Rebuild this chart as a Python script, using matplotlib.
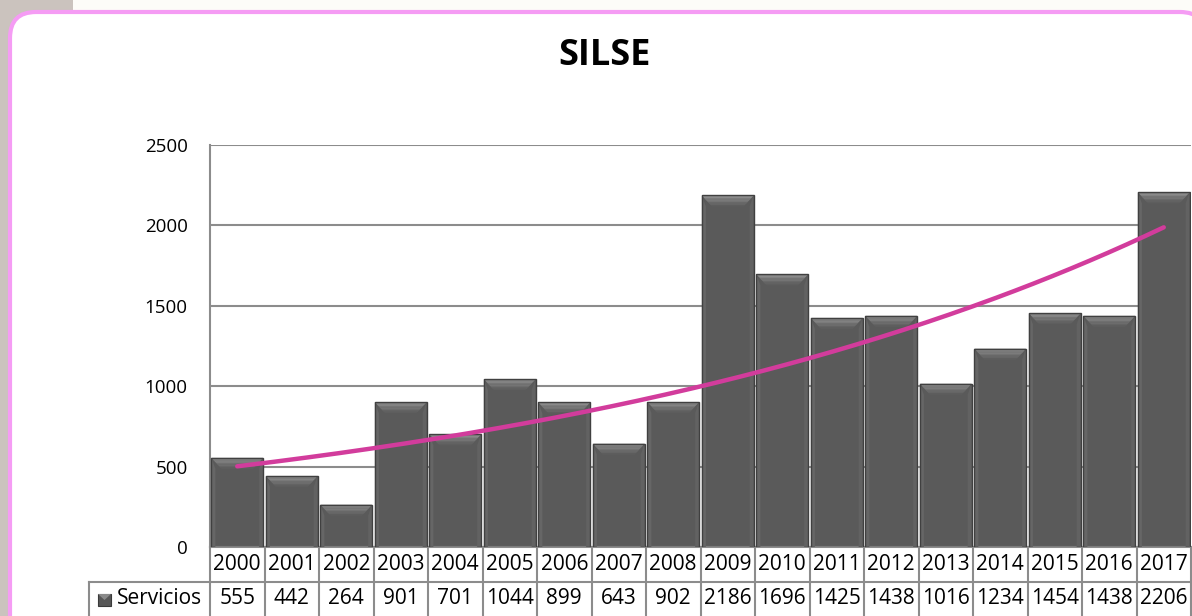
import numpy as np
import matplotlib
matplotlib.use("Agg")
import matplotlib.pyplot as plt
from matplotlib.patches import Rectangle, FancyBboxPatch, Polygon
import matplotlib.transforms as mtransforms

years = ["2000", "2001", "2002", "2003", "2004", "2005", "2006", "2007", "2008",
         "2009", "2010", "2011", "2012", "2013", "2014", "2015", "2016", "2017"]
servicios = [555, 442, 264, 901, 701, 1044, 899, 643, 902,
             2186, 1696, 1425, 1438, 1016, 1234, 1454, 1438, 2206]
series_name = "Servicios"
title = "SILSE"
yticks = [0, 500, 1000, 1500, 2000, 2500]

plt.rcParams['font.family'] = ['Open Sans', 'DejaVu Sans']

W, H = 1192, 616
fig = plt.figure(figsize=(W / 100, H / 100), dpi=100)
fig.patch.set_facecolor('#cbc3be')

pix = mtransforms.IdentityTransform()
# background pieces (pixel coords, origin bottom-left)
fig.patches.append(Rectangle((73, H - 12), W, 12, transform=pix,
                             facecolor='#fdfcf8', edgecolor='none', zorder=-3))
fig.patches.append(FancyBboxPatch((10, -40), 1196, H - 12 + 40,
                                  boxstyle="round,pad=0,rounding_size=26",
                                  transform=pix, facecolor='white',
                                  edgecolor='#f59cf4', linewidth=3, zorder=-2))

left, right, top, bottom = 210, 1191, 145, 547
ax = fig.add_axes([left / W, 1 - bottom / H, (right - left) / W, (bottom - top) / H])
ax.set_facecolor('none')
ax.set_zorder(1)

n = len(years)
x = np.arange(n)
ax.set_xlim(-0.5, n - 0.5)
ax.set_ylim(0, 2500)

# grid
ax.set_yticks(yticks)
ax.yaxis.grid(True, color='#8c8c8c', linewidth=1.5)
ax.set_axisbelow(True)
for s in ['top', 'right', 'bottom']:
    ax.spines[s].set_visible(False)
ax.spines['left'].set_color('#8c8c8c')
ax.spines['left'].set_linewidth(1.5)
ax.tick_params(axis='y', length=0, pad=16, labelsize=13.5)
ax.tick_params(axis='x', length=0, labelbottom=False)
ax.set_yticklabels([str(v) for v in yticks])

# bars
bw = 0.95
bars = ax.bar(x, servicios, width=bw, color='#5a5a5a', edgecolor='none',
              linewidth=0, zorder=2)

pxx = (n) / (right - left)          # data units per pixel in x
pxy = 2500 / (bottom - top)         # data units per pixel in y
dx, dy = 10 * pxx, 11 * pxy
sx = 4 * pxx
steps = 8
top_cols = np.linspace(0x92, 0x5e, steps)
for b in bars:
    x0 = b.get_x(); x1 = x0 + b.get_width(); t = b.get_height()
    # side bevels
    ax.add_patch(Polygon([(x0, t), (x0 + sx, t - dy), (x0 + sx, 0), (x0, 0)],
                         closed=True, facecolor='#666666', edgecolor='none', zorder=3))
    ax.add_patch(Polygon([(x1, t), (x1 - sx, t - dy), (x1 - sx, 0), (x1, 0)],
                         closed=True, facecolor='#626262', edgecolor='none', zorder=3))
    # top bevel with gradient
    for k in range(steps):
        f0 = k / steps
        f1 = (k + 1) / steps
        c = '#%02x%02x%02x' % ((int(top_cols[k]),) * 3)
        ax.add_patch(Polygon([(x0 + dx * f0, t - dy * f0), (x1 - dx * f0, t - dy * f0),
                              (x1 - dx * f1, t - dy * f1), (x0 + dx * f1, t - dy * f1)],
                             closed=True, facecolor=c, edgecolor='none', zorder=3))
    ax.add_patch(Rectangle((x0, 0), b.get_width(), t, facecolor='none',
                           edgecolor='#404040', linewidth=1.0, zorder=3.5))

# exponential trendline
coef = np.polyfit(x, np.log(servicios), 1)
xt = np.linspace(0, n - 1, 200)
ax.plot(xt, np.exp(np.polyval(coef, xt)), color='#d23c9c', linewidth=3.2,
        solid_capstyle='round', zorder=5)

# data table
trans = mtransforms.blended_transform_factory(ax.transData, ax.transAxes)
ah = bottom - top
r1 = 35 / ah
r2 = 36 / ah
gc = '#8c8c8c'
lw = 1.5
for i in range(n + 1):
    ax.plot([i - 0.5, i - 0.5], [0, -(r1 + r2 + 0.05)], transform=trans, color=gc,
            linewidth=lw, clip_on=False, zorder=1)
ax.plot([-0.5, n - 0.5], [0, 0], transform=trans, color=gc, linewidth=lw, clip_on=False)
lx = -0.5 - (210 - 89) * pxx
ax.plot([lx, n - 0.5], [-r1, -r1], transform=trans, color=gc, linewidth=lw, clip_on=False)
ax.plot([lx, lx], [-r1, -(r1 + r2 + 0.05)], transform=trans, color=gc, linewidth=lw, clip_on=False)
for i in range(n):
    ax.text(i, -r1 / 2, years[i], transform=trans, ha='center', va='center',
            fontsize=15, clip_on=False)
    ax.text(i, -r1 - r2 / 2 + 0.004, str(servicios[i]), transform=trans, ha='center',
            va='center', fontsize=15, clip_on=False)
ax.text(-0.5 - (210 - 117) * pxx, -r1 - r2 / 2 + 0.004, series_name, transform=trans,
        ha='left', va='center', fontsize=15, clip_on=False)
# legend key
kx0 = -0.5 - (210 - 98) * pxx
ax.add_patch(Rectangle((kx0, -r1 - r2 / 2 - 6 / ah), 13 * pxx, 12 / ah, transform=trans,
                       facecolor='#575757', edgecolor='#3a3a3a', linewidth=0.8,
                       clip_on=False))
ax.add_patch(Polygon([(kx0, -r1 - r2 / 2 + 6 / ah), (kx0 + 13 * pxx, -r1 - r2 / 2 + 6 / ah),
                      (kx0 + 6.5 * pxx, -r1 - r2 / 2)], closed=True, transform=trans,
                     facecolor='#8a8a8a', edgecolor='none', clip_on=False))

fig.text(604 / W, 1 - 56 / H, title, ha='center', va='center', fontsize=26,
         fontweight='bold')

fig.savefig('out.png', dpi=100, facecolor=fig.get_facecolor())
